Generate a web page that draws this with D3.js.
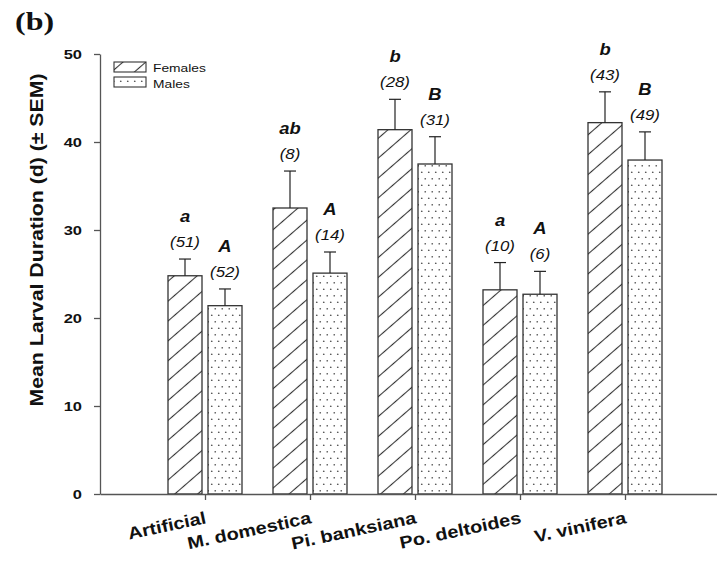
<!DOCTYPE html>
<html>
<head>
<meta charset="utf-8">
<script src="https://cdn.jsdelivr.net/npm/d3@7"></script>
<style>
  body { margin: 0; background: #fff; }
  svg { display: block; }
</style>
</head>
<body>
<script>
// values
var categories = ["Artificial", "M. domestica", "Pi. banksiana", "Po. deltoides", "V. vinifera"];
var femaleMean = [24.8, 32.5, 41.4, 23.2, 42.2];
var femaleSem = [1.9, 4.2, 3.45, 3.1, 3.5];
var maleMean = [21.4, 25.1, 37.5, 22.7, 37.95];
var maleSem = [1.9, 2.4, 3.1, 2.6, 3.2];
var femaleN = [51, 8, 28, 10, 43];
var maleN = [52, 14, 31, 6, 49];
var femaleLetters = ["a", "ab", "b", "a", "b"];
var maleLetters = ["A", "A", "B", "A", "B"];
var yTicks = [0, 10, 20, 30, 40, 50];
var seriesNames = ["Females", "Males"];

var w = 717, h = 563;
var font = "'Liberation Sans', Arial, sans-serif";

var svg = d3.select("body").append("svg")
  .attr("width", w)
  .attr("height", h);

var defs = svg.append("defs");
defs.append("pattern")
  .attr("id", "hatch")
  .attr("patternUnits", "userSpaceOnUse")
  .attr("width", 10).attr("height", 15)
  .attr("patternTransform", "rotate(-41)")
  .append("line")
  .attr("x1", 0).attr("x2", 10).attr("y1", 7.5).attr("y2", 7.5)
  .attr("stroke", "#333").attr("stroke-width", 1.1);
var dots = defs.append("pattern")
  .attr("id", "dots")
  .attr("patternUnits", "userSpaceOnUse")
  .attr("width", 7).attr("height", 13);
dots.append("circle").attr("cx", 1.75).attr("cy", 3.25).attr("r", 0.85).attr("fill", "#555");
dots.append("circle").attr("cx", 5.25).attr("cy", 9.75).attr("r", 0.85).attr("fill", "#555");

var x = d3.scaleLinear().domain([0, 6]).range([100, 730]);
var y = d3.scaleLinear().domain([0, 50]).range([494, 54]);

var barW = 34, gap = 3;

// stretched text helper: the original fonts are wide
function label(x0, y0, txt, opts) {
  var t = svg.append("text")
    .attr("transform", "translate(" + x0 + "," + y0 + ") rotate(" + (opts.rot || 0) + ") scale(" + (opts.sx || 1) + ",1)")
    .attr("text-anchor", opts.anchor || "middle")
    .style("font-family", opts.family || font)
    .style("font-size", opts.size + "px")
    .style("font-weight", opts.weight || "normal")
    .style("font-style", opts.style || "normal")
    .attr("fill", "#111")
    .text(txt);
  return t;
}

// bars
var g = svg.append("g");
categories.forEach(function(c, i) {
  var t = x(i + 1);
  var groups = [
    {x: t - gap - barW, mean: femaleMean[i], sem: femaleSem[i], n: femaleN[i], l: femaleLetters[i], fill: "url(#hatch)"},
    {x: t + gap, mean: maleMean[i], sem: maleSem[i], n: maleN[i], l: maleLetters[i], fill: "url(#dots)"}
  ];
  groups.forEach(function(d) {
    var cx = d.x + barW / 2;
    var top = y(d.mean + d.sem);
    g.append("rect")
      .attr("x", d.x).attr("y", y(d.mean))
      .attr("width", barW).attr("height", y(0) - y(d.mean))
      .attr("fill", "#fff");
    g.append("rect")
      .attr("x", d.x).attr("y", y(d.mean))
      .attr("width", barW).attr("height", y(0) - y(d.mean))
      .attr("fill", d.fill)
      .attr("stroke", "#333").attr("stroke-width", 1.3);
    g.append("line")
      .attr("x1", cx).attr("x2", cx).attr("y1", y(d.mean)).attr("y2", top)
      .attr("stroke", "#222").attr("stroke-width", 1.2);
    g.append("line")
      .attr("x1", cx - 6).attr("x2", cx + 6).attr("y1", top).attr("y2", top)
      .attr("stroke", "#222").attr("stroke-width", 1.2);
    label(cx, top - 12, "(" + d.n + ")", {size: 14, style: "italic", sx: 1.2});
    label(cx, top - 37, d.l, {size: 16, weight: "bold", style: "italic", sx: 1.15});
  });
});

// axes
var yAxis = svg.append("g")
  .attr("transform", "translate(100,0)")
  .call(d3.axisLeft(y).tickValues(yTicks).tickSize(6).tickSizeOuter(0).tickPadding(12));
yAxis.selectAll("path, line").attr("stroke", "#555").attr("stroke-width", 1.3);
yAxis.selectAll("text")
  .attr("x", -18 / 1.22)
  .attr("transform", "scale(1.22,1)")
  .attr("fill", "#111")
  .style("font-family", font)
  .style("font-size", "13.5px")
  .style("font-weight", "bold");

var xAxis = svg.append("g")
  .attr("transform", "translate(0," + y(0) + ")")
  .call(d3.axisBottom(x).tickValues([1, 2, 3, 4, 5]).tickFormat("").tickSize(6).tickSizeOuter(0));
xAxis.selectAll("path, line").attr("stroke", "#555").attr("stroke-width", 1.3);

categories.forEach(function(c, i) {
  label(x(i + 1) + 2, 523, c, {size: 17, weight: "bold", anchor: "end", rot: -12, sx: 1.17});
});

// y title
label(43, 240, "Mean Larval Duration (d) (\u00b1 SEM)", {size: 19, weight: "bold", rot: -90, sx: 1.12});

// panel letter
label(15, 30, "(b)", {size: 25, weight: "bold", anchor: "start", sx: 1.28, family: "'Liberation Serif', 'Times New Roman', serif"});

// legend
var leg = svg.append("g");
seriesNames.forEach(function(s, i) {
  leg.append("rect")
    .attr("x", 114).attr("y", 62 + i * 15)
    .attr("width", 32).attr("height", 10)
    .attr("fill", i === 0 ? "url(#hatch)" : "url(#dots)")
    .attr("stroke", "#333").attr("stroke-width", 1.1);
  label(153, 72 + i * 16, s, {size: 11.5, anchor: "start", sx: 1.2});
});
</script>
</body>
</html>
